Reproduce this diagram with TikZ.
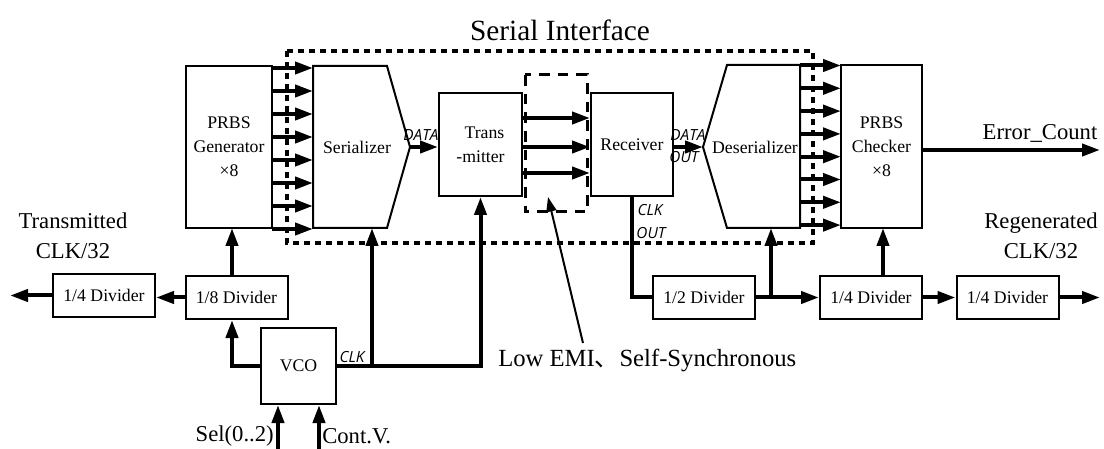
\documentclass[tikz,border=0pt]{standalone}
\usepackage{fontspec}
\setmainfont{Liberation Serif}
\newfontfamily\cjkfont{Noto Sans CJK SC}
\newfontfamily\tagfont{Open Sans}
\usetikzlibrary{arrows.meta}

\tikzset{
  blk/.style={draw, line width=1.5pt, inner sep=0pt, align=center,
    font=\fontsize{13.3}{18}\selectfont},
  divider/.style={blk, minimum width=76.5pt, minimum height=32.25pt},
  bus/.style={line width=3pt, -{Triangle[length=13.5pt,width=9pt]}},
  wire/.style={line width=3pt},
  tag/.style={font=\tagfont\itshape\fontsize{11.5}{12}\selectfont, inner sep=0pt},
  outer/.style={font=\fontsize{17}{22.5}\selectfont, align=center, inner sep=0pt},
  shapeline/.style={line width=1.5pt, line join=miter},
  frame/.style={line width=3pt, dash pattern=on 4.5pt off 3.75pt},
  channel/.style={line width=2.25pt, dash pattern=on 8pt off 6pt},
  pointer/.style={line width=1.5pt, -{Triangle[length=11pt,width=7.5pt]}},
}

\begin{document}
\begin{tikzpicture}[x=0.75pt, y=-0.75pt]
\useasboundingbox (0,0) rectangle (1104,449);

% ---- transmit side blocks ----
\node[blk, minimum width=64.5pt, minimum height=121.5pt] (gen) at (229,147) {PRBS\\Generator\\×8};
\coordinate (sertip) at (410,147);
\draw[shapeline] (313,66) -- (387,66) -- (sertip) -- (387,228) -- (313,228) -- cycle;
\node[font=\fontsize{13.3}{15}\selectfont] (ser) at (357,147) {Serializer};
\node[blk, minimum width=62.25pt, minimum height=77.25pt] (tx) at (480.5,144.5) {\hspace*{6pt}Trans\\-mitter};

% ---- receive side blocks ----
\node[blk, minimum width=61.5pt, minimum height=77.25pt] (rx) at (632,144.5) {Receiver};
\coordinate (destip) at (703,147);
\draw[shapeline] (destip) -- (727,65) -- (800,65) -- (800,228) -- (727,228) -- cycle;
\node[font=\fontsize{13.3}{15}\selectfont] (des) at (755,147) {Deserializer};
\node[blk, minimum width=60.75pt, minimum height=122.25pt] (chk) at (881.5,146.5) {PRBS\\Checker\\×8};

% ---- parallel buses ----
\foreach \i in {0,...,7}
  \draw[bus] (272,{68+23*\i}) -- (313,{68+23*\i});
\foreach \i in {0,...,7}
  \draw[bus] (800,{65.5+22.8*\i}) -- (841,{65.5+22.8*\i});

% ---- serial data path ----
\draw[bus] (sertip) -- (tx.west |- sertip);
\node[tag] (dtx) at (421,135) {DATA};
\foreach \yy in {118,147,173}
  \draw[bus] (tx.east |- 0,\yy) -- (rx.west |- 0,\yy);
\draw[bus] (rx.east |- destip) -- (destip);
\node[tag] (drx) at (688,135) {DATA};
\node[tag] (orx) at (684,157) {OUT};

\coordinate (err) at (1100,150);
\draw[bus] (chk.east |- err) -- (err);
\node[outer] (errlbl) at (1040,133) {Error\_Count};

% ---- interface boundary and link ----
\draw[frame] (287,51) rectangle (813,243);
\node[font=\fontsize{22}{24}\selectfont] (sitext) at (560,30) {Serial Interface};
\draw[channel] (525,75) rectangle (587,212);

% ---- clock generation ----
\node[divider] (d4a) at (104,295.5) {1/4 Divider};
\node[divider] (d8) at (236.5,297.5) {1/8 Divider};
\node[blk, minimum width=56.25pt, minimum height=57pt] (vco) at (298.5,366) {VCO};
\node[outer] (txlbl) at (73,236) {Transmitted\\CLK/32};

\coordinate (genin) at (232,228);
\coordinate (serin) at (372,228);
\coordinate (txclk) at (10,296);
\draw[bus] (d8.west) -- (d4a.east |- d8.west);
\draw[bus] (d4a.west) -- (txclk |- d4a.west);
\draw[bus] (genin |- d8.north) -- (genin);
\draw[bus] (vco.west) -| (genin |- d8.south);
\draw[bus] (vco.east) -| (serin);
\draw[bus] (vco.east) -| (tx.south);
\node[tag] (clk) at (352,357) {CLK};

\coordinate (selsrc) at (278,449);
\coordinate (cvsrc) at (319,449);
\draw[bus] (selsrc) -- (selsrc |- vco.south);
\draw[bus] (cvsrc) -- (cvsrc |- vco.south);
\node[outer, anchor=east] (sel) at (274,436) {Sel(0..2)};
\node[outer, anchor=west] (cv) at (322,436) {Cont.V.};

% ---- clock recovery ----
\node[divider] (d2) at (704,297.5) {1/2 Divider};
\node[divider] (d4b) at (871,297.5) {1/4 Divider};
\node[divider] (d4c) at (1007.5,297.5) {1/4 Divider};
\node[outer] (rglbl) at (1041,236) {Regenerated\\CLK/32};

\draw[wire] (rx.south) |- (d2.west);
\node[tag] (clko1) at (650,210) {CLK};
\node[tag] (clko2) at (651,233) {OUT};

\coordinate (desin) at (771,228);
\coordinate (chkin) at (883,228);
\coordinate (rgclk) at (1100,297.5);
\draw[bus] (d2.east) -- (d4b.west);
\draw[bus] (desin |- d2.east) -- (desin);
\draw[bus] (chkin |- d4b.north) -- (chkin);
\draw[bus] (d4b.east) -- (d4c.west);
\draw[bus] (d4c.east) -- (rgclk);

% ---- annotation ----
\node[anchor=west, inner sep=0pt, font=\fontsize{18.5}{20}\selectfont] (emi) at (498,360) {Low EMI{\cjkfont 、}Self-Synchronous};
\coordinate (emitail) at (583,343);
\coordinate (emihead) at (548,197);
\draw[pointer] (emitail) -- (emihead);
\end{tikzpicture}
\end{document}
